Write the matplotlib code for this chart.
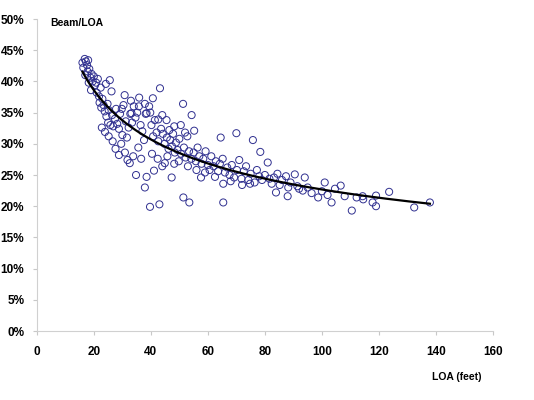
import numpy as np
import matplotlib
matplotlib.use("Agg")
import matplotlib.pyplot as plt
from matplotlib.ticker import FuncFormatter

plt.rcParams['font.family'] = ['Liberation Sans', 'DejaVu Sans']

# Boat length overall (feet) and beam/LOA ratio (%)
loa = [
    16.0, 16.3, 16.8, 17.2, 17.6, 18.0, 17.0, 17.8, 18.4, 18.8, 19.2, 19.6, 20.0, 20.4, 18.2, 19.0,
    20.8, 21.4, 21.0, 21.8, 22.4, 22.0, 22.6, 23.0, 23.4, 23.8, 24.2, 24.4, 24.8, 25.2, 25.6, 26.2,
    25.0, 25.8, 26.4, 26.8, 27.4, 27.8, 28.2, 28.8, 29.2, 29.8, 30.4, 30.8, 31.2, 30.0, 31.6, 32.2,
    32.8, 33.4, 34.0, 34.6, 35.2, 35.9, 36.4, 37.0, 37.6, 38.2, 39.4, 40.7, 39.8, 40.2, 40.8, 41.4,
    42.0, 42.6, 43.2, 43.6, 44.2, 44.8, 45.5, 45.6, 46.2, 46.8, 47.4, 47.8, 48.4, 48.8, 49.4, 50.0,
    50.6, 51.3, 51.6, 52.2, 52.8, 53.4, 54.3, 55.2, 54.2, 55.0, 55.8, 56.4, 57.0, 57.8, 58.4, 59.2,
    60.0, 60.6, 61.2, 62.0, 62.8, 64.5, 63.6, 64.2, 65.2, 66.0, 66.8, 67.6, 68.4, 70.0, 69.2, 70.2,
    71.0, 71.8, 72.6, 73.4, 74.2, 75.0, 75.8, 76.4, 77.2, 78.4, 78.0, 79.0, 80.0, 81.0, 81.6, 82.4,
    83.2, 84.4, 85.2, 86.0, 87.4, 88.2, 89.0, 90.5, 91.4, 92.0, 93.3, 94.0, 95.0, 96.4, 98.7, 100.0,
    101.0, 102.0, 103.4, 104.6, 106.6, 108.0, 110.5, 112.2, 114.3, 114.5, 117.8, 119.0, 119.0, 123.6,
    132.4, 137.9,
    23.9, 22.8, 25.2, 26.6, 27.6, 28.8, 29.6, 30.9, 31.8, 32.6, 33.8, 34.8, 35.6, 36.6, 37.9, 38.5,
    39.7, 40.4, 41.1, 42.4, 43.0, 44.0, 44.9, 45.8, 47.3, 48.2, 49.8, 51.4, 53.5, 53.0, 56.0, 57.6,
    59.0, 62.5, 65.4, 65.4, 68.0, 72.0, 74.8, 83.9, 88.0,
    33.0, 37.9, 35.8, 38.5, 33.2, 42.6, 48.2, 52.0, 46.5, 44.0, 50.5,
]
beam_ratio = [
    43.0, 42.2, 43.6, 43.2, 42.6, 43.4, 41.0, 41.6, 42.0, 40.6, 41.2, 40.0, 40.8, 39.4, 39.8, 38.6,
    39.8, 40.4, 38.2, 37.6, 39.0, 36.6, 35.8, 37.2, 36.2, 35.2, 39.6, 34.4, 36.4, 35.4, 40.2, 38.4,
    33.4, 33.0, 34.6, 32.8, 34.0, 35.6, 33.2, 32.4, 34.8, 35.6, 36.2, 37.8, 33.6, 31.4, 31.0, 32.6,
    34.8, 33.4, 36.0, 34.2, 35.0, 37.4, 33.0, 32.0, 30.6, 34.8, 36.0, 37.3, 35.0, 33.0, 31.2, 33.8,
    31.8, 30.4, 38.9, 32.4, 31.6, 30.0, 33.8, 31.0, 29.2, 30.6, 29.6, 31.6, 28.6, 30.2, 29.0, 30.8,
    28.4, 36.4, 29.4, 27.8, 31.2, 28.8, 34.6, 32.1, 27.6, 28.6, 27.2, 29.4, 28.0, 26.8, 27.6, 28.8,
    26.6, 25.8, 28.0, 26.4, 27.2, 31.0, 25.6, 26.8, 27.6, 25.4, 26.2, 25.0, 26.6, 31.7, 24.6, 25.8,
    27.4, 24.4, 25.6, 26.4, 24.2, 25.2, 30.6, 23.8, 25.8, 28.7, 24.8, 24.2, 25.0, 27.0, 24.4, 23.6,
    24.6, 25.2, 23.4, 24.2, 24.8, 23.0, 23.8, 25.1, 23.2, 22.8, 22.5, 24.6, 23.0, 22.1, 21.4, 22.4,
    23.8, 21.8, 20.6, 22.8, 23.3, 21.6, 19.3, 21.4, 21.6, 21.1, 20.6, 21.7, 20.0, 22.3,
    19.8, 20.6,
    31.9, 32.6, 31.2, 30.4, 29.2, 28.2, 30.0, 28.6, 27.4, 26.9, 28.0, 25.0, 29.4, 27.6, 23.0, 24.7,
    19.9, 28.4, 25.7, 27.6, 20.3, 26.4, 26.9, 28.0, 24.6, 26.8, 27.2, 21.4, 20.6, 26.4, 25.8, 24.6,
    25.4, 24.7, 23.6, 20.6, 24.0, 23.4, 23.6, 22.2, 21.6,
    36.9, 36.4, 36.0, 34.9, 34.9, 33.9, 32.8, 31.8, 32.2, 34.6, 33.0,
]

x_ticks = [0, 20, 40, 60, 80, 100, 120, 140, 160]
y_ticks = [0, 5, 10, 15, 20, 25, 30, 35, 40, 45, 50]

x = np.array(loa)
y = np.array(beam_ratio)

fig = plt.figure(figsize=(5.34, 4.0), dpi=100)
ax = fig.add_axes([0.069, 0.1725, 0.854, 0.78])

ax.scatter(x, y, s=26, facecolors='none', edgecolors='#303090', linewidths=0.7, zorder=2)

# Power trendline fitted to the data
b, loga = np.polyfit(np.log(x), np.log(y), 1)
xs = np.linspace(x.min(), x.max(), 200)
ax.plot(xs, np.exp(loga) * xs ** b, color='black', lw=1.6, zorder=3)

ax.set_xlim(0, 160)
ax.set_ylim(0, 50)
ax.set_xticks(x_ticks)
ax.set_yticks(y_ticks)
ax.yaxis.set_major_formatter(FuncFormatter(lambda v, p: f"{v:.0f}%"))
for lab in ax.get_xticklabels() + ax.get_yticklabels():
    lab.set_fontweight('bold')
    lab.set_fontsize(8.5)
ax.tick_params(axis='both', colors='#c8c8c8', length=3, width=0.8, labelcolor='black')
ax.tick_params(axis='x', pad=8)
ax.tick_params(axis='y', pad=6)
for s in ['top', 'right']:
    ax.spines[s].set_visible(False)
for s in ['left', 'bottom']:
    ax.spines[s].set_color('#d0d0d0')
    ax.spines[s].set_linewidth(0.8)

fig.text(50 / 534, 1 - 23 / 400, 'Beam/LOA', fontsize=7.5, fontweight='bold', va='center', ha='left')
fig.text(481 / 534, 1 - 377 / 400, 'LOA (feet)', fontsize=7.5, fontweight='bold', va='center', ha='right')

fig.savefig('out.png', dpi=100)
